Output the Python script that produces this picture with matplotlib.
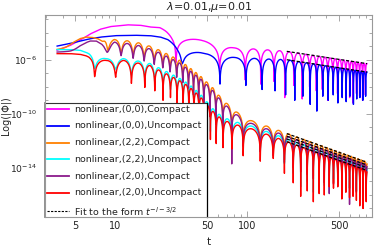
import numpy as np
import matplotlib
matplotlib.use("Agg")
import matplotlib.pyplot as plt
from matplotlib.lines import Line2D
from matplotlib.patches import Rectangle
from matplotlib.ticker import FixedLocator, FixedFormatter, NullFormatter

plt.rcParams['font.family'] = ['DejaVu Sans']

# ---------------- data ----------------
title = "$\\lambda$=0.01,$\\mu$=0.01"
labels = ["nonlinear,(0,0),Compact", "nonlinear,(0,0),Uncompact",
          "nonlinear,(2,2),Compact", "nonlinear,(2,2),Uncompact",
          "nonlinear,(2,0),Compact", "nonlinear,(2,0),Uncompact"]
fit_label = "Fit to the form $t^{-l-3/2}$"
colors = ["#FF00FF", "#0000FF", "#FF8000", "#00FFFF", "#8B1A8B", "#FF0000"]

t_start, t_end = 3.64, 811.0

# envelopes: t and log10|Phi| of lobe tops
mag_env_t = [3.64, 4.56, 5.43, 6.47, 7.7, 9.2, 12.4, 15.5, 18.4, 21.9, 24.5, 27.0, 45, 79, 112, 144, 176, 200, 811]
mag_env_v = [-5.3, -4.95, -4.55, -4.1, -3.75, -3.55, -3.42, -3.45, -3.58, -3.62, -3.8, -4.0, -4.56, -5.12, -5.2, -5.27, -5.33, -5.38, -6.29]
mag_dip_t = [28.9, 62, 97, 127, 160, 193, 226, 262, 298, 335, 372, 409, 447, 485, 523, 561, 599, 637, 675, 713, 751, 789]
mag_dip_v = [-6.2, -6.7, -7.5, -7.8, -7.6, -8.8, -7.9, -8.9, -8.0, -8.3, -8.2, -9.0, -8.4, -8.5, -8.4, -8.6, -8.8, -9.2, -8.5, -8.7, -9.0, -8.6]

blu_env_t = [3.64, 4.56, 5.43, 6.47, 7.7, 10, 14, 18.4, 22, 25, 28, 30, 47, 80, 114, 146, 180, 200, 811]
blu_env_v = [-4.99, -4.8, -4.62, -4.45, -4.33, -4.22, -4.19, -4.22, -4.32, -4.5, -4.8, -5.0, -5.53, -5.83, -5.9, -5.95, -5.98, -6.0, -6.91]
blu_dip_t = [32.2, 62.4, 98, 130, 163, 196, 230, 265, 301, 338, 375, 412, 450, 488, 526, 564, 602, 640, 678, 716, 754, 792]
blu_dip_v = [-6.3, -7.8, -7.9, -8.2, -8.3, -8.6, -9.0, -8.7, -9.3, -9.8, -8.7, -9.0, -8.6, -9.2, -8.8, -9.1, -8.7, -9.3, -8.9, -8.8, -9.0, -8.7]

l2_late_dip_t = [93.5, 126, 158, 192, 224, 255, 286, 318, 352, 385, 420, 452, 487, 523, 561, 598, 636, 674, 715, 757, 800]

org_env_t = [3.64, 4.2, 4.8, 5.4, 6.0, 6.7, 7.4, 8.0, 9.9, 12.4, 15.1, 18.4, 21.9, 26.1, 31, 35, 44, 55, 64.5, 78, 96.5, 811]
org_env_v = [-5.53, -5.2, -4.75, -4.45, -4.33, -4.35, -4.45, -4.65, -4.51, -4.6, -4.75, -5.0, -5.31, -5.68, -6.05, -6.43, -7.17, -8.07, -8.89, -9.63, -10.33, -13.56]
org_dip_t = [8.8, 11.1, 13.7, 16.6, 19.8, 23.0, 26.1, 29.3, 32.6, 36.0, 39.3, 43.0, 47.0, 52.4, 58.0, 65.5, 76.6] + l2_late_dip_t
org_dip_v = [-5.3, -5.55, -5.7, -5.9, -6.1, -6.4, -6.7, -7.0, -7.4, -7.8, -8.3, -8.8, -9.3, -9.8, -10.3, -10.8, -11.6,
             -12.2, -12.6, -12.9, -13.4, -13.8, -14.1, -14.3, -14.6, -14.8, -14.9, -15.0, -15.1, -15.2, -15.3, -15.4, -15.5, -15.6, -15.7, -15.8, -15.9, -16.0]

cyn_env_t = [3.64, 4.56, 5.43, 6.0, 6.5, 8.5, 11.6, 15, 18.4, 21.9, 26.1, 31, 36, 44, 55, 64.5, 81, 96.5, 811]
cyn_env_v = [-5.25, -5.25, -5.3, -5.45, -5.6, -5.93, -5.92, -6.1, -6.28, -6.63, -7.0, -7.38, -7.77, -8.5, -9.6, -10.2, -10.6, -10.73, -13.96]
cyn_dip_t = [7.0, 10.1, 13.3, 16.8, 20.0, 23.1, 26.3, 29.5, 32.8, 36.2, 39.6, 43.3, 47.4, 52.8, 58.4, 65.8, 76.8] + l2_late_dip_t
cyn_dip_v = [-6.65, -6.7, -7.15, -7.45, -7.7, -8.4, -8.2, -8.7, -9.0, -9.4, -9.8, -10.2, -10.7, -11.3, -11.6, -11.9, -12.0,
             -12.4, -12.8, -12.6, -13.7, -14.4, -15.4, -15.0, -15.8, -15.2, -15.3, -14.7, -14.8, -14.7, -15.6, -15.1, -15.5, -15.4, -15.7, -16.1, -16.3, -15.8]

pur_env_t = [3.64, 4.56, 5.43, 6.0, 6.47, 7.2, 7.9, 8.4, 9.9, 12.4, 15.1, 18.4, 21.9, 26.1, 31, 35, 44, 55, 64.5, 78, 96.5, 811]
pur_env_v = [-5.98, -5.6, -5.0, -4.75, -4.62, -4.62, -4.85, -5.15, -4.7, -4.8, -4.95, -5.2, -5.5, -5.87, -6.25, -6.63, -7.37, -8.27, -9.09, -9.83, -10.53, -13.76]
pur_dip_t = [8.7, 11.1, 13.7, 16.6, 19.8, 23.0, 26.1, 29.3, 32.6, 36.0, 39.3, 43.0, 47.0, 52.4, 58.0, 65.5, 76.6] + l2_late_dip_t
pur_dip_v = [-5.45, -5.7, -5.9, -6.1, -6.35, -6.6, -6.9, -7.3, -7.7, -8.1, -8.6, -9.1, -9.6, -10.2, -10.8, -11.5, -13.7,
             -12.4, -12.8, -13.1, -13.6, -14.0, -14.3, -14.5, -14.8, -15.0, -15.1, -15.9, -15.2, -15.3, -15.4, -15.5, -16.7, -15.7, -15.8, -15.9, -16.0, -16.1]

red_env_t = [3.64, 4.56, 5.43, 6.0, 6.5, 8.5, 11.6, 15, 18.4, 21.9, 26.1, 31, 36, 44, 55, 64.5, 81, 96.5, 811]
red_env_v = [-5.55, -5.55, -5.6, -5.7, -5.85, -6.05, -6.05, -6.25, -6.43, -6.8, -7.17, -7.55, -7.95, -8.7, -9.8, -10.4, -10.8, -10.93, -14.16]
red_dip_t = [7.0, 10.1, 13.3, 16.8, 20.0, 23.1, 26.3, 29.5, 32.8, 36.2, 39.6, 43.3, 47.4, 52.8, 58.4, 65.8, 76.8] + l2_late_dip_t
red_dip_v = [-7.25, -7.3, -7.75, -8.05, -8.3, -9.0, -8.8, -9.3, -9.6, -10.0, -10.4, -10.8, -11.3, -11.9, -12.2, -12.5, -12.6,
             -13.1, -13.5, -13.3, -14.4, -15.1, -16.1, -15.7, -16.5, -15.9, -16.0, -15.4, -15.5, -15.4, -16.3, -15.8, -16.2, -16.1, -16.4, -16.8, -17.0, -16.5]

# late-time fits  A * t^(-l-3/2): l and log10 value at t=200
fit_t = [200, 811]
fit_l = [0, 0, 2, 2, 2, 2]
fit_log_at200 = [-5.38, -6.0, -11.46, -11.86, -11.66, -12.06]

series = [(mag_env_t, mag_env_v, mag_dip_t, mag_dip_v),
          (blu_env_t, blu_env_v, blu_dip_t, blu_dip_v),
          (org_env_t, org_env_v, org_dip_t, org_dip_v),
          (cyn_env_t, cyn_env_v, cyn_dip_t, cyn_dip_v),
          (pur_env_t, pur_env_v, pur_dip_t, pur_dip_v),
          (red_env_t, red_env_v, red_dip_t, red_dip_v)]


def build_curve(env_t, env_v, dip_t, dip_v):
    d = np.asarray(dip_t, float)
    dv = np.asarray(dip_v, float)
    t = np.unique(np.concatenate([np.geomspace(t_start, t_end, 30000), d[d <= t_end]]))
    lt = np.log10(t)
    logE = np.interp(lt, np.log10(env_t), env_v)
    M = np.ones_like(t)
    i = np.searchsorted(d, t, side='right')
    n = len(d)
    inner = (i > 0) & (i < n)
    a = d[np.clip(i - 1, 0, n - 1)]
    b = d[np.clip(i, 0, n - 1)]
    M[inner] = np.abs(np.sin(np.pi * (t[inner] - a[inner]) / (b[inner] - a[inner])))
    pre = i == 0
    w0 = 0.25 * (d[1] - d[0])
    M[pre] = np.sin(np.pi / 2 * np.minimum(1, (d[0] - t[pre]) / w0))
    post = i == n
    w1 = 0.5 * (d[-1] - d[-2])
    M[post] = np.sin(np.pi / 2 * np.minimum(1, (t[post] - d[-1]) / w1))
    j = np.argmin(np.abs(lt[:, None] - np.log10(d)[None, :]), axis=1)
    eps = 10 ** (dv[j] - logE)
    return t, 10 ** logE * np.sqrt(M ** 2 + eps ** 2)


# ---------------- figure ----------------
W, H = 374, 248
fig = plt.figure(figsize=(W / 100, H / 100), dpi=100)
L, R, T, B = 44.7, 372.0, 14.7, 217.0
ax = fig.add_axes([L / W, 1 - B / H, (R - L) / W, (B - T) / H])
ax.set_xscale('log')
ax.set_yscale('log')

for (et, ev, dt, dv), c in zip(series, colors):
    tt, vv = build_curve(et, ev, dt, dv)
    ax.plot(tt, vv, color=c, lw=1.0, solid_joinstyle='round')

ft = np.array(fit_t, float)
for l, a200 in zip(fit_l, fit_log_at200):
    ax.plot(ft, 10 ** a200 * (ft / 200.0) ** (-l - 1.5), color='black', lw=0.9,
            dashes=(2.5, 1.5), zorder=2.1)

ax.set_xlim(2.93, 885)
ax.set_ylim(10 ** -17.63, 10 ** -2.67)

gray = '#999999'
for s in ax.spines.values():
    s.set_color(gray)
    s.set_linewidth(0.8)

ax.xaxis.set_major_locator(FixedLocator([5, 10, 50, 100, 500]))
ax.xaxis.set_major_formatter(FixedFormatter(["5", "10", "50", "100", "500"]))
ax.xaxis.set_minor_locator(FixedLocator([3, 4, 6, 7, 8, 9, 20, 30, 40, 60, 70, 80, 90,
                                         200, 300, 400, 600, 700, 800]))
ax.xaxis.set_minor_formatter(NullFormatter())
ymaj = [1e-6, 1e-10, 1e-14]
ax.yaxis.set_major_locator(FixedLocator(ymaj))
ax.yaxis.set_major_formatter(FixedFormatter(["$10^{-6}$", "$10^{-10}$", "$10^{-14}$"]))
ax.yaxis.set_minor_locator(FixedLocator([10.0 ** k for k in range(-17, -2) if k not in (-6, -10, -14)]))
ax.yaxis.set_minor_formatter(NullFormatter())
ax.tick_params(which='both', direction='in', top=True, right=True, color=gray,
               labelcolor='#222222', width=0.6)
ax.tick_params(axis='x', labelsize=7.0, pad=3)
ax.tick_params(axis='y', labelsize=6.6, pad=5.5)
ax.tick_params(which='major', length=4)
ax.tick_params(which='minor', length=2.2)


def fx(x):
    return x / W


def fy(y):
    return 1 - y / H


fig.text(fx(209), fy(6.5), title, ha='center', va='center', fontsize=8, color='#222222')
fig.text(fx(209), fy(242), "t", ha='center', va='center', fontsize=7.5, color='#222222')
fig.text(fx(6), fy(116), "Log(|\u03a6|)", ha='center', va='center', rotation=90,
         fontsize=6.9, color='#222222')

# legend box (lower-left, bounded by t=50 on the right)
lx0, lx1, ly0, ly1 = 44.7, 207.0, 103.0, 217.0
ax.add_patch(Rectangle((fx(lx0), fy(ly1)), fx(lx1) - fx(lx0), fy(ly0) - fy(ly1),
                       transform=fig.transFigure, facecolor='white', edgecolor='none',
                       zorder=2.2, clip_on=False))
ax.add_line(Line2D([fx(lx0), fx(lx1)], [fy(ly0), fy(ly0)], transform=fig.transFigure,
                   color='#333333', lw=0.8, zorder=2.3, clip_on=False))
ax.add_line(Line2D([fx(lx1), fx(lx1)], [fy(ly0), fy(ly1)], transform=fig.transFigure,
                   color='black', lw=0.9, zorder=2.3, clip_on=False))
ax.add_line(Line2D([fx(lx0 + 0.5), fx(lx0 + 0.5)], [fy(ly0), fy(ly1)], transform=fig.transFigure,
                   color='#888888', lw=1.3, zorder=2.3, clip_on=False))

row_y = [109.3 + 16.7 * k for k in range(len(labels))] + [211.4]
for k, (lab, c) in enumerate(zip(labels + [fit_label], colors + ['black'])):
    y = row_y[k]
    if k < len(labels):
        ax.add_line(Line2D([fx(47.3), fx(69.3)], [fy(y), fy(y)], transform=fig.transFigure,
                           color=c, lw=1.3, zorder=2.4, clip_on=False))
    else:
        ax.add_line(Line2D([fx(47.3), fx(69.3)], [fy(y), fy(y)], transform=fig.transFigure,
                           color=c, lw=0.8, dashes=(2.0, 1.2), zorder=2.4, clip_on=False))
    ax.text(fx(74.3), fy(y), lab, transform=fig.transFigure, ha='left', va='center',
            fontsize=6.8, color='#222222', zorder=2.45)

fig.savefig("out.png", dpi=100)
